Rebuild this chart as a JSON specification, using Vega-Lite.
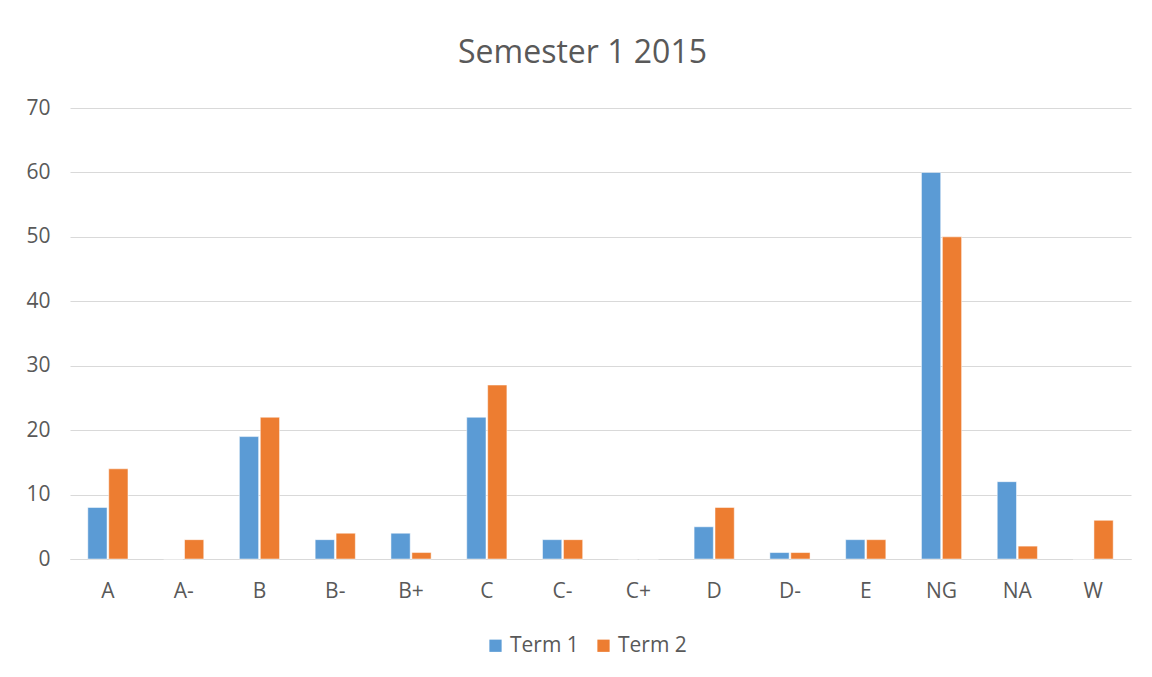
{
  "$schema": "https://vega.github.io/schema/vega-lite/v6.json",
  "autosize": "none",
  "width": 1061,
  "height": 451,
  "padding": {"left": 70, "top": 108, "right": 21, "bottom": 118},
  "background": "white",
  "title": {"text": "Semester 1 2015", "fontSize": 32, "font": "Open Sans", "fontWeight": "normal", "color": "#595959", "anchor": "middle", "offset": 27, "dx": -18},
  "data": {"values": [
    {"grade": "A", "term": "Term 1", "count": 8}, {"grade": "A", "term": "Term 2", "count": 14},
    {"grade": "A-", "term": "Term 1", "count": 0}, {"grade": "A-", "term": "Term 2", "count": 3},
    {"grade": "B", "term": "Term 1", "count": 19}, {"grade": "B", "term": "Term 2", "count": 22},
    {"grade": "B-", "term": "Term 1", "count": 3}, {"grade": "B-", "term": "Term 2", "count": 4},
    {"grade": "B+", "term": "Term 1", "count": 4}, {"grade": "B+", "term": "Term 2", "count": 1},
    {"grade": "C", "term": "Term 1", "count": 22}, {"grade": "C", "term": "Term 2", "count": 27},
    {"grade": "C-", "term": "Term 1", "count": 3}, {"grade": "C-", "term": "Term 2", "count": 3},
    {"grade": "C+", "term": "Term 1", "count": 0}, {"grade": "C+", "term": "Term 2", "count": 0},
    {"grade": "D", "term": "Term 1", "count": 5}, {"grade": "D", "term": "Term 2", "count": 8},
    {"grade": "D-", "term": "Term 1", "count": 1}, {"grade": "D-", "term": "Term 2", "count": 1},
    {"grade": "E", "term": "Term 1", "count": 3}, {"grade": "E", "term": "Term 2", "count": 3},
    {"grade": "NG", "term": "Term 1", "count": 60}, {"grade": "NG", "term": "Term 2", "count": 50},
    {"grade": "NA", "term": "Term 1", "count": 12}, {"grade": "NA", "term": "Term 2", "count": 2},
    {"grade": "W", "term": "Term 1", "count": 0}, {"grade": "W", "term": "Term 2", "count": 6}
  ]},
  "mark": {"type": "bar", "stroke": "white", "strokeWidth": 0.5},
  "encoding": {
    "x": {
      "field": "grade", "type": "nominal", "sort": null,
      "scale": {"paddingInner": 0.47, "paddingOuter": 0.235},
      "axis": {"title": null, "labelAngle": 0, "ticks": false, "domainColor": "#d9d9d9", "domainWidth": 1, "labelFontSize": 21, "labelFont": "Open Sans", "labelColor": "#595959", "labelPadding": 21}
    },
    "xOffset": {"field": "term", "type": "nominal", "scale": {"paddingInner": 0.08}},
    "y": {
      "field": "count", "type": "quantitative",
      "scale": {"domain": [0, 70]},
      "axis": {"title": null, "values": [0, 10, 20, 30, 40, 50, 60, 70], "domain": false, "ticks": false, "gridColor": "#d9d9d9", "gridWidth": 1, "labelFontSize": 21, "labelFont": "Open Sans", "labelColor": "#595959", "labelPadding": 20}
    },
    "color": {
      "field": "term", "type": "nominal",
      "scale": {"domain": ["Term 1", "Term 2"], "range": ["#5B9BD5", "#ED7D31"]},
      "legend": {"title": null, "orient": "none", "direction": "horizontal", "legendX": 415, "legendY": 527, "symbolType": "square", "symbolSize": 150, "symbolStrokeWidth": 0, "labelFontSize": 21, "labelFont": "Open Sans", "labelColor": "#595959", "columnPadding": 14, "labelOffset": 4}
    }
  },
  "config": {"view": {"stroke": null}}
}
